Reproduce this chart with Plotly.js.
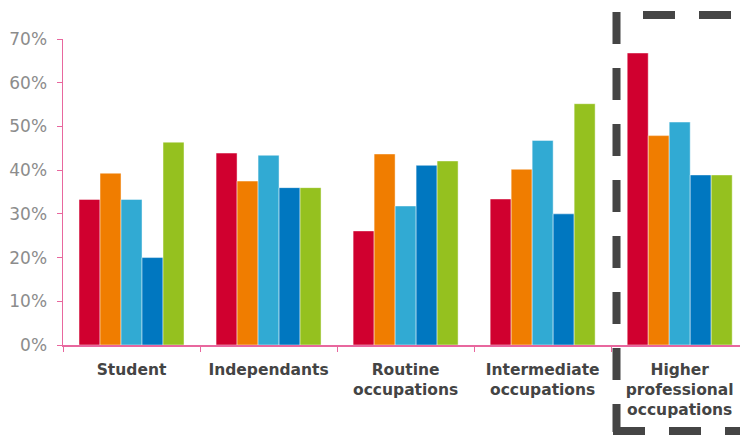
<!DOCTYPE html>
<html>
<head>
<meta charset="utf-8">
<script src="https://cdn.plot.ly/plotly-3.0.1.min.js"></script>
<style>html,body{margin:0;padding:0;background:#fff;}#chart{width:740px;height:435px;}</style>
</head>
<body>
<div id="chart"></div>
<script>
const categories = ["Student", "Independants", "Routine<br>occupations", "Intermediate<br>occupations", "Higher<br>professional<br>occupations"];
const seriesNames = ["Series 1", "Series 2", "Series 3", "Series 4", "Series 5"];
const seriesColors = ["#D0002F", "#F07D00", "#31AAD3", "#0077C0", "#95C11F"];
const series1 = [0.333, 0.439, 0.261, 0.334, 0.668];
const series2 = [0.393, 0.375, 0.437, 0.402, 0.479];
const series3 = [0.333, 0.434, 0.318, 0.468, 0.510];
const series4 = [0.200, 0.360, 0.411, 0.300, 0.389];
const series5 = [0.464, 0.360, 0.421, 0.552, 0.389];
const yTickVals = [0, 0.1, 0.2, 0.3, 0.4, 0.5, 0.6, 0.7];

const allSeries = [series1, series2, series3, series4, series5];
const traces = allSeries.map((vals, i) => ({
  type: "bar",
  name: seriesNames[i],
  x: categories,
  y: vals,
  marker: { color: seriesColors[i], line: { width: 1, color: "rgba(255,255,255,0.45)" } },
  hoverinfo: "skip"
}));

const W = 740, H = 435, L = 63, T = 39, B = 90;
const plotW = W - L, plotH = H - T - B;
const px = v => (v - L) / plotW;
const py = v => (H - B - v) / plotH;
const dashStyle = { color: "#454545", width: 8, dash: "32px,24px" };

const layout = {
  width: W, height: H,
  margin: { l: L, r: 0, t: T, b: B, pad: 0 },
  paper_bgcolor: "#fff", plot_bgcolor: "#fff",
  showlegend: false,
  barmode: "group",
  bargap: 0.234,
  bargroupgap: 0,
  font: { family: "DejaVu Sans, Verdana, sans-serif" },
  xaxis: {
    type: "category",
    range: [-0.5, 4.44],
    showline: true, linecolor: "#E8679E", linewidth: 1.5,
    ticks: "outside", tickson: "boundaries", ticklen: 5, tickcolor: "#E8679E", tickwidth: 1,
    showgrid: false, zeroline: false,
    tickfont: { family: "DejaVu Sans, Verdana, sans-serif", size: 15.5, color: "#444444", weight: "bold" },
    ticklabelstandoff: 10,
    fixedrange: true
  },
  yaxis: {
    range: [0, 0.7],
    tickvals: yTickVals,
    tickformat: ".0%",
    showline: true, linecolor: "#E8679E", linewidth: 1.5,
    ticks: "outside", ticklen: 5, tickcolor: "#E8679E", tickwidth: 1,
    showgrid: false, zeroline: false,
    tickfont: { family: "DejaVu Sans, Verdana, sans-serif", size: 17, color: "#8C8C8C" },
    ticklabelstandoff: 6,
    fixedrange: true
  },
  shapes: [
    { type: "line", xref: "paper", yref: "paper", x0: px(616.5), x1: px(616.5), y0: py(12), y1: py(432), line: dashStyle },
    { type: "line", xref: "paper", yref: "paper", x0: px(643), x1: px(770), y0: py(15), y1: py(15), line: dashStyle },
    { type: "line", xref: "paper", yref: "paper", x0: px(613), x1: px(770), y0: py(431), y1: py(431), line: dashStyle }
  ]
};

Plotly.newPlot("chart", traces, layout, { staticPlot: true, displayModeBar: false });
</script>
</body>
</html>
